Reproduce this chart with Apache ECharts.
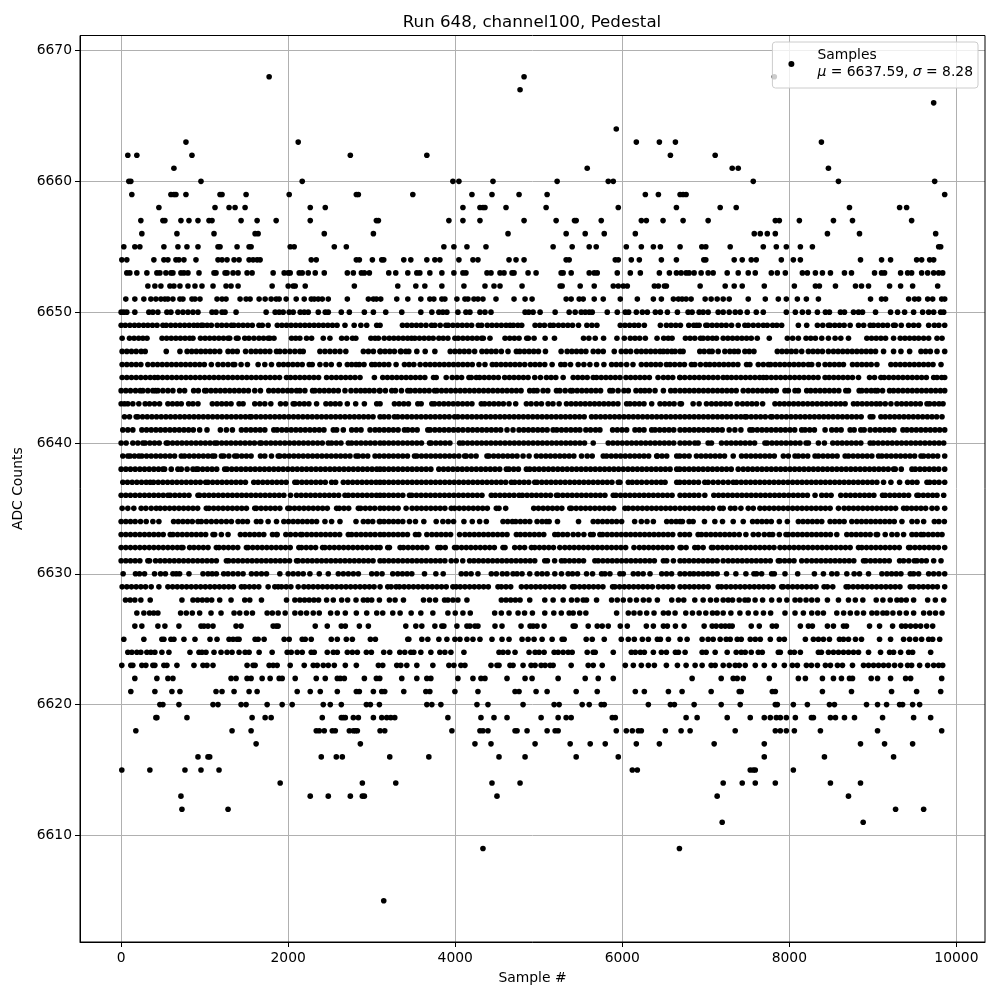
<!DOCTYPE html>
<html>
<head>
<meta charset="utf-8">
<script src="https://cdn.jsdelivr.net/npm/echarts@6/dist/echarts.min.js"></script>
<style>
  html, body { margin: 0; padding: 0; background: #fff; }
  #chart { width: 1000px; height: 1000px; }
</style>
</head>
<body>
<div id="chart"></div>
<script>
const chartTitle = "Run 648, channel100, Pedestal";
const xTicks = [0, 2000, 4000, 6000, 8000, 10000];
const yTicks = [6610, 6620, 6630, 6640, 6650, 6660, 6670];

// sample numbers, one list per ADC code
const row6668 = [1772, 4824, 7820];
const row6667 = [4776];
const row6666 = [9728];
const row6664 = [5928];
const row6663 = [776, 2120, 6168, 6444, 6636, 8384];
const row6662 = [80, 188, 848, 2744, 3660, 6576, 7112];
const row6661 = [632, 5580, 7316, 7388, 8468];
const row6660 = [92, 116, 956, 2168, 3972, 4044, 4452, 5220, 5832, 5892, 7568, 8588, 9740];
const row6659 = [128, 596, 632, 656, 776, 1184, 1208, 1496, 2012, 2816, 2840, 3492, 4200, 4440, 4764, 5100, 6276, 6432, 6692, 6728, 6764, 9860];
const row6658 = [452, 1124, 1292, 1364, 1484, 2264, 2444, 4092, 4296, 4332, 4356, 4608, 5088, 5952, 6648, 7172, 7364, 8720, 9320, 9404];
const row6657 = [236, 500, 524, 716, 812, 920, 1052, 1088, 1436, 1628, 1856, 2264, 3056, 3080, 3924, 4092, 4296, 4824, 5208, 5428, 5448, 5748, 6228, 6288, 6488, 6728, 7028, 7832, 7880, 8120, 8528, 8756, 9464];
const row6656 = [248, 668, 1112, 1604, 1640, 2432, 3020, 4632, 5328, 5556, 5784, 6156, 7580, 7652, 7736, 7832, 8456, 8840, 9752];
const row6655 = [32, 164, 224, 512, 680, 788, 920, 1160, 1184, 1388, 1532, 1556, 2024, 2072, 2552, 2696, 3864, 3984, 4140, 4368, 5172, 5400, 5604, 5688, 6048, 6228, 6372, 6456, 6692, 6952, 7000, 7292, 7688, 7844, 7964, 8132, 8276, 9788, 9812];
const row6654 = [8, 68, 392, 512, 560, 656, 692, 752, 896, 1160, 1208, 1268, 1352, 1412, 1532, 1580, 1628, 1664, 2276, 2336, 2816, 2852, 3008, 3120, 3144, 3384, 3468, 3660, 3756, 3816, 4044, 4212, 4272, 4644, 4728, 4824, 5328, 5364, 5916, 5952, 6108, 6204, 6468, 6648, 6976, 7000, 7340, 7436, 7544, 7604, 7904, 8048, 8132, 8852, 9104, 9212, 9524, 9584, 9680, 9728];
const row6653 = [68, 104, 188, 308, 428, 464, 536, 596, 620, 716, 752, 800, 932, 1112, 1136, 1244, 1268, 1340, 1400, 1508, 1568, 1820, 1952, 2000, 2024, 2132, 2168, 2240, 2324, 2432, 2708, 2780, 2876, 2912, 2972, 3204, 3288, 3432, 3540, 3576, 3696, 3840, 3984, 4092, 4128, 4380, 4428, 4536, 4584, 4680, 4704, 4872, 4968, 5268, 5292, 5388, 5604, 5664, 5700, 5940, 6096, 6216, 6444, 6564, 6648, 6704, 6764, 6800, 6860, 6944, 7028, 7088, 7256, 7388, 7508, 7592, 7784, 7856, 7952, 8156, 8216, 8312, 8396, 8492, 8660, 8744, 9020, 9104, 9140, 9332, 9416, 9464, 9584, 9656, 9728, 9788, 9836];
const row6652 = [320, 404, 476, 584, 632, 704, 800, 884, 968, 1100, 1256, 1316, 1400, 1808, 2000, 2060, 2084, 2204, 2792, 3312, 3528, 3636, 3840, 4104, 4356, 4464, 4536, 4800, 5256, 5280, 5496, 5664, 5892, 5952, 6012, 6060, 6384, 6432, 6504, 6528, 6932, 7232, 7340, 7436, 7700, 8060, 8312, 8360, 8552, 8792, 8864, 8948, 9200, 9332, 9476, 9776];
const row6651 = [56, 164, 272, 356, 416, 476, 524, 560, 620, 704, 740, 848, 884, 944, 1148, 1208, 1256, 1424, 1496, 1544, 1652, 1724, 1796, 1856, 1892, 1976, 2096, 2192, 2276, 2312, 2360, 2408, 2480, 2708, 2960, 3020, 3056, 3108, 3300, 3432, 3588, 3696, 3744, 3840, 3876, 4020, 4116, 4152, 4224, 4272, 4332, 4488, 4704, 4836, 4920, 5328, 5388, 5484, 5532, 5664, 5772, 5976, 6180, 6372, 6468, 6612, 6672, 6716, 6764, 6824, 6992, 7064, 7136, 7208, 7280, 7508, 7712, 7868, 7964, 8096, 8204, 8348, 8972, 9104, 9152, 9428, 9500, 9548, 9656, 9716, 9824, 9860];
const row6650 = [0, 32, 68, 164, 332, 380, 440, 548, 596, 680, 740, 800, 860, 920, 1088, 1136, 1208, 1244, 1376, 1736, 1844, 1892, 1940, 2012, 2060, 2144, 2192, 2240, 2360, 2444, 2480, 2636, 2732, 2912, 3020, 3168, 3360, 3588, 3720, 3804, 3852, 3900, 4032, 4128, 4176, 4296, 4356, 4428, 4836, 4880, 4932, 5016, 5196, 5364, 5436, 5508, 5556, 5604, 5640, 5820, 5940, 6036, 6076, 6168, 6240, 6300, 6396, 6456, 6540, 6660, 6788, 6836, 6920, 6968, 7028, 7148, 7208, 7280, 7352, 7412, 7496, 7604, 7688, 7964, 8072, 8156, 8228, 8336, 8432, 8480, 8612, 8660, 8768, 8828, 8876, 9032, 9212, 9296, 9380, 9488, 9596, 9668, 9728, 9812, 9848];
const row6649 = [0, 50, 105, 160, 212, 268, 320, 375, 430, 500, 540, 595, 650, 705, 760, 815, 870, 915, 960, 980, 1030, 1080, 1150, 1205, 1262, 1320, 1350, 1405, 1460, 1515, 1570, 1650, 1690, 1760, 1870, 1925, 1980, 2035, 2090, 2145, 2200, 2255, 2310, 2365, 2420, 2475, 2530, 2585, 2680, 2790, 2870, 2940, 3060, 3100, 3368, 3424, 3480, 3535, 3590, 3650, 3716, 3756, 3820, 3888, 3916, 3972, 4028, 4084, 4140, 4196, 4276, 4316, 4384, 4440, 4496, 4552, 4608, 4656, 4696, 4750, 4796, 4956, 5012, 5068, 5136, 5176, 5236, 5292, 5348, 5404, 5476, 5576, 5636, 5696, 5976, 6032, 6088, 6144, 6196, 6264, 6456, 6528, 6584, 6640, 6696, 6796, 6856, 6890, 6920, 7000, 7020, 7076, 7132, 7188, 7244, 7308, 7388, 7468, 7508, 7568, 7628, 7688, 7736, 7800, 7850, 7908, 8108, 8208, 8336, 8400, 8468, 8488, 8544, 8600, 8656, 8728, 8828, 8890, 8968, 9008, 9064, 9120, 9176, 9248, 9268, 9340, 9428, 9488, 9548, 9668, 9736, 9790, 9860];
const row6648 = [12, 100, 155, 210, 260, 310, 490, 545, 600, 655, 710, 765, 820, 860, 950, 1005, 1060, 1115, 1170, 1225, 1280, 1300, 1380, 1400, 1480, 1530, 1590, 1650, 1705, 1760, 1780, 1830, 2040, 2090, 2140, 2220, 2280, 2420, 2500, 2640, 2700, 2770, 2810, 2990, 3040, 3080, 3150, 3210, 3265, 3320, 3376, 3430, 3476, 3516, 3572, 3628, 3684, 3736, 3804, 3856, 3912, 3996, 4036, 4092, 4148, 4204, 4260, 4316, 4336, 4416, 4596, 4652, 4708, 4764, 4856, 4876, 4944, 5076, 5188, 5536, 5600, 5676, 5776, 5936, 6024, 6096, 6152, 6208, 6276, 6416, 6496, 6550, 6596, 6756, 6812, 6868, 6936, 6968, 7024, 7080, 7128, 7208, 7264, 7320, 7376, 7432, 7488, 7544, 7616, 7760, 7976, 8040, 8108, 8200, 8256, 8312, 8388, 8468, 8548, 8616, 8708, 8928, 8984, 9040, 9096, 9152, 9248, 9328, 9384, 9440, 9496, 9548, 9608, 9668, 9768, 9828];
const row6647 = [12, 68, 124, 180, 240, 288, 540, 704, 790, 845, 900, 955, 1010, 1065, 1120, 1180, 1280, 1335, 1390, 1490, 1556, 1612, 1668, 1724, 1780, 1860, 1900, 1960, 2020, 2080, 2140, 2180, 2380, 2440, 2500, 2560, 2620, 2690, 2900, 2960, 3020, 3100, 3104, 3160, 3216, 3272, 3344, 3352, 3408, 3444, 3540, 3640, 3756, 3940, 3996, 4052, 4108, 4164, 4232, 4320, 4376, 4432, 4488, 4552, 4632, 4732, 4772, 4828, 4884, 4940, 4996, 5080, 5268, 5340, 5396, 5452, 5508, 5564, 5652, 5712, 5772, 5904, 5988, 6044, 6100, 6172, 6228, 6284, 6340, 6396, 6452, 6492, 6540, 6592, 6632, 6692, 6728, 6928, 6980, 7040, 7076, 7148, 7228, 7288, 7340, 7388, 7468, 7520, 7576, 7856, 7912, 7968, 8024, 8080, 8148, 8228, 8284, 8340, 8396, 8468, 8528, 8584, 8640, 8696, 8752, 8808, 8864, 8920, 8976, 9032, 9128, 9248, 9336, 9440, 9576, 9632, 9688, 9768, 9860];
const row6646 = [12, 68, 124, 180, 236, 320, 380, 436, 492, 548, 604, 660, 716, 772, 828, 884, 940, 996, 1080, 1160, 1220, 1280, 1340, 1360, 1436, 1512, 1640, 1720, 1800, 1888, 1944, 2000, 2056, 2112, 2168, 2252, 2288, 2380, 2452, 2516, 2612, 2708, 2760, 2812, 2852, 2908, 3000, 3040, 3092, 3148, 3204, 3292, 3392, 3448, 3504, 3580, 3644, 3700, 3756, 3812, 3868, 3924, 3980, 4036, 4092, 4148, 4204, 4284, 4356, 4444, 4492, 4548, 4604, 4660, 4716, 4772, 4832, 4900, 4956, 5012, 5072, 5160, 5264, 5312, 5380, 5472, 5540, 5612, 5692, 5780, 5872, 5928, 5984, 6052, 6128, 6228, 6288, 6344, 6400, 6456, 6528, 6572, 6628, 6688, 6744, 6828, 6868, 6936, 7000, 7048, 7104, 7160, 7216, 7272, 7328, 7384, 7488, 7528, 7628, 7688, 7748, 7776, 7832, 7888, 7944, 8000, 8056, 8112, 8168, 8228, 8268, 8348, 8428, 8484, 8540, 8596, 8648, 8756, 8812, 8868, 8924, 8980, 9048, 9216, 9272, 9328, 9384, 9440, 9496, 9552, 9608, 9664, 9720, 9816];
const row6645 = [12, 68, 124, 180, 236, 292, 348, 400, 440, 496, 552, 608, 664, 720, 776, 832, 888, 944, 1000, 1056, 1112, 1168, 1224, 1280, 1336, 1392, 1448, 1504, 1560, 1616, 1672, 1728, 1784, 1840, 1896, 1980, 2028, 2084, 2140, 2196, 2252, 2308, 2364, 2460, 2520, 2576, 2632, 2688, 2744, 2800, 2860, 3032, 3132, 3188, 3244, 3300, 3356, 3412, 3468, 3524, 3580, 3636, 3740, 3772, 3892, 3964, 4020, 4076, 4164, 4192, 4252, 4292, 4348, 4404, 4460, 4516, 4592, 4648, 4704, 4760, 4816, 4872, 4952, 5020, 5092, 5148, 5204, 5292, 5412, 5468, 5524, 5580, 5652, 5692, 5748, 5804, 5860, 5916, 5972, 6044, 6100, 6156, 6212, 6268, 6324, 6428, 6492, 6548, 6604, 6692, 6688, 6748, 6808, 6864, 6920, 6976, 7032, 7088, 7144, 7208, 7256, 7308, 7364, 7420, 7476, 7532, 7588, 7644, 7688, 7728, 7784, 7840, 7896, 7952, 8008, 8064, 8120, 8176, 8232, 8288, 8344, 8428, 8476, 8532, 8588, 8644, 8700, 8756, 8828, 8960, 9020, 9096, 9136, 9192, 9248, 9304, 9360, 9416, 9472, 9528, 9584, 9640, 9728, 9768, 9824, 9860];
const row6644 = [0, 56, 112, 172, 228, 260, 320, 380, 412, 440, 500, 560, 620, 700, 760, 868, 924, 1000, 1020, 1076, 1132, 1188, 1244, 1300, 1356, 1412, 1468, 1524, 1600, 1668, 1768, 1824, 1880, 1936, 1992, 2040, 2100, 2140, 2200, 2292, 2320, 2376, 2432, 2488, 2544, 2600, 2680, 2752, 2812, 2868, 2920, 2972, 3028, 3100, 3092, 3164, 3240, 3284, 3356, 3432, 3464, 3520, 3576, 3632, 3688, 3752, 3780, 3836, 3892, 3948, 4004, 4060, 4116, 4172, 4228, 4284, 4340, 4396, 4452, 4508, 4564, 4620, 4676, 4732, 4788, 4892, 4940, 4980, 5052, 5108, 5212, 5252, 5316, 5380, 5404, 5460, 5516, 5572, 5628, 5684, 5740, 5852, 5884, 5950, 6020, 6072, 6164, 6220, 6270, 6324, 6392, 6492, 6580, 6632, 6692, 6748, 6804, 6860, 6916, 6972, 7028, 7084, 7140, 7196, 7252, 7308, 7364, 7448, 7508, 7564, 7620, 7676, 7732, 7788, 7844, 7948, 7988, 8068, 8108, 8208, 8256, 8312, 8368, 8424, 8480, 8536, 8592, 8676, 8708, 8836, 8868, 8924, 8980, 9028, 9056, 9116, 9200, 9248, 9304, 9360, 9416, 9472, 9528, 9584, 9640, 9696, 9752, 9808, 9860];
const row6643 = [0, 40, 80, 140, 212, 288, 340, 400, 460, 560, 615, 670, 720, 808, 860, 920, 1092, 1148, 1204, 1260, 1316, 1412, 1460, 1600, 1660, 1720, 1792, 1908, 1970, 2060, 2080, 2136, 2192, 2248, 2340, 2452, 2508, 2564, 2620, 2708, 2808, 2912, 3060, 3100, 3272, 3328, 3384, 3440, 3552, 3592, 3720, 3752, 3808, 3864, 3920, 3976, 4032, 4088, 4144, 4200, 4312, 4352, 4408, 4464, 4520, 4576, 4644, 4724, 4852, 4908, 4972, 5032, 5112, 5170, 5244, 5332, 5388, 5444, 5500, 5556, 5612, 5668, 5724, 5780, 5836, 5892, 5948, 6052, 6092, 6148, 6204, 6260, 6352, 6452, 6508, 6564, 6620, 6692, 6708, 6848, 6920, 7008, 7068, 7124, 7180, 7236, 7292, 7376, 7440, 7496, 7552, 7608, 7680, 7828, 7884, 7940, 7996, 8052, 8108, 8164, 8220, 8276, 8332, 8388, 8444, 8500, 8556, 8612, 8668, 8768, 8816, 8872, 8928, 8984, 9040, 9088, 9148, 9216, 9288, 9344, 9400, 9456, 9512, 9568, 9648, 9680, 9736, 9792, 9840];
const row6642 = [40, 100, 180, 200, 256, 312, 368, 424, 480, 536, 592, 648, 704, 760, 816, 872, 928, 984, 1040, 1096, 1152, 1208, 1264, 1320, 1376, 1432, 1488, 1540, 1560, 1616, 1672, 1728, 1784, 1840, 1896, 1952, 2008, 2064, 2120, 2176, 2232, 2288, 2344, 2400, 2456, 2512, 2568, 2624, 2680, 2736, 2792, 2848, 2904, 2960, 3016, 3100, 3148, 3204, 3272, 3312, 3368, 3424, 3480, 3536, 3592, 3648, 3704, 3760, 3816, 3872, 3928, 3992, 4032, 4088, 4144, 4200, 4256, 4312, 4368, 4424, 4480, 4536, 4592, 4648, 4704, 4760, 4816, 4872, 4928, 4984, 5040, 5096, 5152, 5208, 5264, 5320, 5376, 5432, 5488, 5544, 5632, 5684, 5740, 5796, 5852, 5908, 5964, 6020, 6076, 6132, 6188, 6244, 6300, 6356, 6412, 6468, 6524, 6580, 6636, 6692, 6748, 6804, 6860, 6916, 6972, 7028, 7084, 7140, 7196, 7252, 7308, 7364, 7420, 7468, 7488, 7544, 7600, 7656, 7712, 7776, 7796, 7852, 7908, 7964, 8020, 8076, 8132, 8188, 8244, 8300, 8356, 8412, 8468, 8524, 8580, 8636, 8692, 8748, 8804, 8860, 8968, 9000, 9096, 9148, 9204, 9260, 9316, 9372, 9428, 9484, 9540, 9596, 9652, 9708, 9764, 9828];
const row6641 = [20, 80, 140, 248, 304, 360, 416, 472, 528, 584, 640, 696, 752, 808, 864, 940, 1028, 1188, 1260, 1332, 1440, 1496, 1552, 1608, 1664, 1720, 1828, 1868, 1924, 1980, 2036, 2092, 2148, 2204, 2260, 2316, 2372, 2428, 2540, 2580, 2660, 2760, 2816, 2872, 2980, 3040, 3092, 3148, 3204, 3260, 3316, 3392, 3432, 3488, 3544, 3672, 3700, 3756, 3812, 3868, 3924, 3980, 4036, 4092, 4152, 4208, 4264, 4320, 4376, 4432, 4488, 4544, 4620, 4692, 4764, 4820, 4876, 4932, 4988, 5044, 5100, 5172, 5216, 5272, 5328, 5384, 5440, 5492, 5564, 5620, 5680, 5732, 5884, 5940, 5996, 6052, 6152, 6204, 6260, 6352, 6392, 6448, 6504, 6560, 6616, 6692, 6748, 6804, 6860, 6916, 6972, 7028, 7084, 7140, 7196, 7280, 7348, 7420, 7528, 7560, 7616, 7672, 7728, 7784, 7840, 7896, 7952, 8008, 8064, 8148, 8188, 8244, 8300, 8428, 8508, 8564, 8620, 8728, 8776, 8856, 8896, 8968, 9028, 9084, 9140, 9196, 9252, 9360, 9408, 9464, 9520, 9576, 9632, 9688, 9744, 9800, 9860];
const row6640 = [0, 60, 140, 200, 260, 288, 344, 400, 456, 540, 560, 616, 672, 728, 784, 840, 896, 952, 1008, 1064, 1120, 1148, 1204, 1260, 1316, 1372, 1428, 1484, 1540, 1596, 1660, 1680, 1736, 1792, 1848, 1904, 1960, 2016, 2072, 2128, 2184, 2240, 2296, 2352, 2408, 2480, 2520, 2576, 2632, 2720, 2760, 2816, 2872, 2928, 2984, 3040, 3100, 3148, 3204, 3260, 3316, 3372, 3428, 3484, 3540, 3596, 3692, 3712, 3768, 3824, 3880, 3936, 4052, 4092, 4148, 4204, 4260, 4316, 4372, 4428, 4484, 4540, 4596, 4652, 4708, 4764, 4820, 4876, 4932, 4988, 5044, 5100, 5156, 5212, 5268, 5324, 5380, 5436, 5492, 5548, 5652, 5832, 5888, 5944, 6000, 6056, 6112, 6168, 6224, 6280, 6336, 6392, 6448, 6504, 6560, 6616, 6692, 6748, 6804, 6868, 6908, 7028, 7068, 7188, 7248, 7304, 7360, 7416, 7472, 7528, 7584, 7708, 7736, 7792, 7848, 7904, 7960, 8016, 8072, 8128, 8200, 8228, 8348, 8420, 8520, 8576, 8632, 8688, 8744, 8800, 8856, 8968, 9008, 9064, 9120, 9176, 9232, 9288, 9344, 9400, 9456, 9512, 9568, 9624, 9680, 9736, 9792, 9848];
const row6639 = [20, 80, 108, 160, 212, 248, 304, 360, 416, 472, 528, 584, 640, 720, 760, 816, 872, 928, 984, 1040, 1092, 1120, 1200, 1228, 1290, 1360, 1388, 1444, 1500, 1556, 1668, 1720, 1800, 1880, 1900, 1956, 2012, 2068, 2124, 2180, 2236, 2292, 2348, 2404, 2460, 2516, 2572, 2628, 2684, 2740, 2812, 2840, 2896, 2952, 3040, 3092, 3148, 3204, 3260, 3316, 3372, 3428, 3512, 3540, 3596, 3652, 3708, 3764, 3820, 3876, 3932, 3988, 4044, 4112, 4132, 4190, 4250, 4380, 4404, 4460, 4516, 4572, 4628, 4684, 4740, 4812, 4884, 4972, 5028, 5084, 5140, 5196, 5252, 5308, 5364, 5420, 5512, 5580, 5640, 5772, 5812, 5868, 5924, 5980, 6036, 6092, 6148, 6204, 6260, 6316, 6412, 6420, 6476, 6532, 6652, 6688, 6744, 6800, 6888, 6944, 7000, 7056, 7112, 7168, 7224, 7328, 7428, 7484, 7540, 7596, 7652, 7708, 7764, 7820, 7928, 7988, 8068, 8108, 8164, 8220, 8308, 8348, 8404, 8460, 8516, 8572, 8668, 8708, 8764, 8820, 8876, 8932, 8988, 9068, 9108, 9164, 9220, 9276, 9332, 9388, 9444, 9500, 9576, 9608, 9664, 9720, 9776, 9860];
const row6638 = [0, 56, 112, 168, 224, 280, 336, 392, 448, 500, 520, 600, 680, 720, 790, 860, 900, 920, 976, 1032, 1088, 1144, 1240, 1268, 1324, 1380, 1436, 1492, 1548, 1604, 1660, 1716, 1772, 1828, 1884, 1940, 1996, 2052, 2108, 2164, 2220, 2276, 2332, 2388, 2444, 2500, 2556, 2612, 2668, 2724, 2780, 2836, 2892, 2948, 3004, 3060, 3100, 3148, 3204, 3260, 3316, 3372, 3428, 3484, 3540, 3596, 3652, 3708, 3804, 3860, 3916, 3972, 4028, 4084, 4140, 4196, 4252, 4308, 4364, 4420, 4476, 4532, 4612, 4644, 4700, 4756, 4852, 4892, 4948, 5004, 5060, 5116, 5172, 5228, 5284, 5340, 5396, 5452, 5508, 5564, 5620, 5676, 5732, 5788, 5844, 5900, 5956, 6012, 6068, 6124, 6180, 6236, 6292, 6348, 6404, 6460, 6516, 6572, 6652, 6688, 6744, 6800, 6856, 6912, 6968, 7024, 7080, 7136, 7192, 7248, 7304, 7388, 7448, 7504, 7560, 7616, 7672, 7728, 7784, 7840, 7896, 7952, 8008, 8064, 8120, 8176, 8232, 8288, 8344, 8400, 8456, 8512, 8568, 8624, 8680, 8736, 8792, 8848, 8904, 8960, 9016, 9072, 9128, 9184, 9248, 9268, 9340, 9468, 9508, 9564, 9620, 9676, 9732, 9788, 9860];
const row6637 = [20, 76, 132, 188, 244, 300, 348, 388, 444, 500, 556, 612, 668, 724, 780, 836, 892, 948, 1012, 1040, 1096, 1152, 1208, 1264, 1320, 1376, 1432, 1488, 1588, 1640, 1696, 1752, 1808, 1864, 1920, 1976, 2080, 2108, 2164, 2220, 2276, 2332, 2388, 2444, 2520, 2568, 2660, 2716, 2772, 2828, 2884, 2940, 2996, 3052, 3100, 3148, 3204, 3260, 3316, 3372, 3428, 3484, 3540, 3596, 3652, 3708, 3764, 3820, 3876, 3932, 3988, 4044, 4100, 4156, 4212, 4268, 4324, 4380, 4436, 4492, 4548, 4604, 4672, 4712, 4768, 4824, 4880, 4952, 4980, 5036, 5092, 5148, 5204, 5260, 5316, 5372, 5428, 5484, 5540, 5596, 5652, 5708, 5764, 5820, 5876, 5952, 5972, 6072, 6120, 6176, 6232, 6292, 6352, 6408, 6464, 6512, 6652, 6688, 6744, 6800, 6856, 6912, 6988, 7028, 7088, 7148, 7208, 7268, 7328, 7368, 7424, 7480, 7536, 7592, 7648, 7704, 7760, 7816, 7872, 7928, 7984, 8040, 8096, 8152, 8208, 8264, 8320, 8376, 8432, 8488, 8544, 8600, 8656, 8712, 8768, 8824, 8880, 8936, 8992, 9048, 9128, 9216, 9320, 9416, 9472, 9528, 9648, 9680, 9736, 9792, 9860];
const row6636 = [0, 56, 112, 168, 224, 280, 336, 392, 448, 504, 560, 588, 644, 700, 756, 812, 920, 940, 996, 1052, 1108, 1164, 1220, 1276, 1332, 1388, 1444, 1500, 1556, 1612, 1668, 1724, 1780, 1836, 1892, 1948, 2028, 2100, 2156, 2212, 2268, 2324, 2380, 2436, 2492, 2548, 2604, 2680, 2720, 2776, 2832, 2888, 2944, 3000, 3056, 3100, 3148, 3204, 3260, 3316, 3372, 3452, 3480, 3536, 3592, 3648, 3704, 3760, 3816, 3872, 3928, 3984, 4040, 4096, 4152, 4208, 4264, 4320, 4432, 4480, 4536, 4592, 4648, 4704, 4764, 4804, 4860, 4916, 4972, 5028, 5084, 5140, 5212, 5232, 5288, 5344, 5400, 5456, 5512, 5568, 5624, 5680, 5736, 5792, 5892, 5924, 5980, 6036, 6092, 6148, 6204, 6260, 6316, 6372, 6428, 6484, 6540, 6596, 6692, 6748, 6804, 6860, 6916, 6988, 7096, 7152, 7208, 7264, 7320, 7376, 7432, 7488, 7544, 7600, 7656, 7712, 7768, 7824, 7880, 7936, 7992, 8048, 8104, 8160, 8216, 8308, 8388, 8444, 8500, 8616, 8676, 8732, 8788, 8844, 8900, 8956, 9012, 9116, 9148, 9204, 9260, 9316, 9372, 9428, 9528, 9548, 9604, 9660, 9716, 9768, 9848];
const row6635 = [12, 80, 152, 240, 296, 360, 420, 468, 524, 580, 636, 692, 748, 804, 860, 916, 1020, 1052, 1108, 1164, 1220, 1276, 1332, 1388, 1444, 1500, 1600, 1620, 1676, 1732, 1788, 1844, 1900, 1996, 2020, 2076, 2132, 2188, 2244, 2300, 2356, 2412, 2468, 2580, 2612, 2668, 2724, 2840, 2868, 2924, 2980, 3036, 3100, 3148, 3204, 3260, 3316, 3412, 3484, 3540, 3596, 3652, 3708, 3764, 3820, 3876, 3952, 3992, 4048, 4104, 4160, 4216, 4272, 4328, 4384, 4492, 4524, 4604, 4940, 4996, 5052, 5108, 5164, 5220, 5276, 5372, 5392, 5448, 5504, 5560, 5616, 5672, 5728, 5784, 5840, 5896, 6032, 6072, 6128, 6184, 6240, 6296, 6352, 6408, 6464, 6520, 6576, 6632, 6692, 6748, 6804, 6860, 6916, 6972, 7028, 7084, 7168, 7208, 7296, 7348, 7420, 7508, 7568, 7648, 7704, 7760, 7816, 7872, 7928, 7984, 8040, 8096, 8152, 8208, 8264, 8320, 8376, 8432, 8488, 8588, 8656, 8712, 8768, 8824, 8880, 8936, 8992, 9048, 9104, 9160, 9216, 9272, 9368, 9408, 9464, 9520, 9576, 9632, 9708, 9768, 9860];
const row6634 = [0, 56, 112, 168, 232, 300, 380, 452, 628, 684, 740, 796, 852, 920, 960, 1020, 1080, 1140, 1200, 1260, 1320, 1400, 1456, 1512, 1620, 1672, 1760, 1860, 1948, 2004, 2060, 2116, 2172, 2228, 2284, 2340, 2440, 2520, 2620, 2812, 2900, 2956, 3012, 3100, 3092, 3148, 3204, 3260, 3316, 3372, 3452, 3524, 3624, 3772, 3852, 3916, 3980, 4104, 4204, 4292, 4372, 4572, 4628, 4684, 4724, 4780, 4836, 4892, 4980, 5040, 5092, 5124, 5224, 5476, 5652, 5708, 5764, 5820, 5876, 5932, 5992, 6148, 6228, 6296, 6372, 6532, 6588, 6644, 6692, 6720, 6800, 6848, 6984, 7108, 7200, 7328, 7448, 7560, 7616, 7672, 7728, 7784, 7880, 7976, 8108, 8164, 8220, 8276, 8332, 8388, 8488, 8544, 8600, 8656, 8748, 8808, 8864, 8920, 8976, 9032, 9088, 9144, 9200, 9256, 9348, 9468, 9530, 9608, 9736, 9790, 9856];
const row6633 = [0, 56, 112, 168, 224, 280, 336, 392, 448, 504, 588, 620, 676, 732, 788, 844, 900, 956, 1012, 1100, 1120, 1200, 1280, 1428, 1484, 1540, 1596, 1652, 1708, 1860, 1812, 1868, 1972, 2028, 2088, 2148, 2168, 2224, 2280, 2336, 2392, 2448, 2504, 2560, 2616, 2720, 2760, 2816, 2872, 2928, 2984, 3040, 3100, 3148, 3204, 3260, 3316, 3372, 3428, 3524, 3564, 3660, 3720, 3776, 3832, 3888, 3944, 4052, 4116, 4172, 4228, 4284, 4340, 4396, 4452, 4508, 4564, 4620, 4732, 4780, 4836, 4892, 4948, 5004, 5060, 5192, 5232, 5288, 5344, 5412, 5472, 5540, 5620, 5652, 5732, 5764, 5820, 5876, 5932, 5988, 6044, 6100, 6156, 6212, 6268, 6324, 6380, 6436, 6492, 6548, 6604, 6692, 6748, 6804, 6908, 6948, 7004, 7060, 7116, 7172, 7228, 7284, 7340, 7400, 7480, 7568, 7630, 7700, 7760, 7800, 7880, 7960, 7988, 8044, 8100, 8156, 8212, 8268, 8324, 8380, 8436, 8492, 8568, 8688, 8744, 8800, 8856, 8912, 8968, 9040, 9056, 9148, 9228, 9290, 9368, 9468, 9520, 9576, 9608, 9664, 9720, 9776, 9828];
const row6632 = [0, 56, 112, 168, 224, 280, 336, 392, 448, 504, 560, 616, 672, 720, 740, 820, 872, 928, 984, 1040, 1140, 1172, 1228, 1284, 1340, 1396, 1500, 1520, 1576, 1632, 1688, 1744, 1800, 1856, 1912, 1968, 2024, 2128, 2160, 2216, 2272, 2328, 2412, 2440, 2496, 2552, 2608, 2664, 2720, 2776, 2832, 2888, 2944, 3000, 3056, 3100, 3192, 3212, 3340, 3380, 3436, 3492, 3548, 3604, 3660, 3792, 3824, 3880, 3992, 4020, 4076, 4132, 4188, 4244, 4300, 4356, 4412, 4468, 4572, 4596, 4712, 4772, 4830, 4912, 4952, 5008, 5064, 5120, 5176, 5252, 5312, 5368, 5424, 5480, 5536, 5592, 5648, 5704, 5760, 5816, 5872, 5928, 5984, 6040, 6140, 6204, 6260, 6316, 6372, 6428, 6484, 6540, 6596, 6692, 6708, 6764, 6868, 6908, 6968, 7068, 7088, 7144, 7200, 7256, 7312, 7368, 7424, 7480, 7536, 7592, 7648, 7704, 7760, 7816, 7888, 7944, 8000, 8056, 8112, 8168, 8224, 8280, 8336, 8392, 8448, 8504, 8560, 8616, 8672, 8728, 8828, 8868, 8924, 8980, 9036, 9092, 9148, 9204, 9260, 9316, 9428, 9448, 9504, 9560, 9616, 9672, 9728, 9784, 9860];
const row6631 = [0, 56, 112, 168, 224, 320, 340, 412, 468, 524, 580, 636, 692, 748, 804, 860, 916, 972, 1028, 1084, 1140, 1260, 1288, 1344, 1400, 1456, 1512, 1568, 1624, 1680, 1736, 1792, 1848, 1904, 1960, 2016, 2100, 2120, 2176, 2232, 2288, 2344, 2400, 2456, 2512, 2568, 2624, 2680, 2736, 2792, 2848, 2904, 2960, 3016, 3100, 3148, 3204, 3260, 3316, 3372, 3428, 3484, 3540, 3596, 3652, 3708, 3764, 3820, 3876, 3952, 4012, 4090, 4172, 4224, 4280, 4336, 4392, 4448, 4504, 4560, 4616, 4672, 4728, 4784, 4840, 4896, 4952, 5072, 5104, 5190, 5272, 5312, 5368, 5424, 5480, 5536, 5672, 5712, 5768, 5824, 5880, 5936, 5992, 6048, 6104, 6160, 6216, 6272, 6328, 6384, 6492, 6532, 6612, 6692, 6744, 6800, 6856, 6912, 6968, 7024, 7080, 7136, 7208, 7268, 7324, 7380, 7436, 7492, 7548, 7604, 7660, 7716, 7772, 7868, 7888, 7944, 8000, 8056, 8148, 8208, 8268, 8324, 8380, 8436, 8492, 8548, 8604, 8660, 8716, 8772, 8888, 8916, 8972, 9028, 9084, 9140, 9196, 9320, 9368, 9430, 9496, 9528, 9584, 9640, 9728, 9816];
const row6630 = [24, 172, 220, 280, 400, 472, 530, 620, 660, 700, 812, 980, 1040, 1090, 1140, 1228, 1280, 1340, 1400, 1460, 1560, 1620, 1680, 1740, 1900, 2000, 2060, 2120, 2180, 2260, 2372, 2480, 2600, 2660, 2720, 2780, 2840, 3000, 3060, 3124, 3252, 3312, 3368, 3424, 3480, 3632, 3768, 3856, 4072, 4130, 4190, 4272, 4432, 4492, 4564, 4620, 4692, 4740, 4800, 4892, 4980, 5040, 5100, 5192, 5272, 5352, 5404, 5464, 5572, 5644, 5752, 5792, 5852, 5972, 6012, 6132, 6190, 6250, 6332, 6472, 6530, 6590, 6692, 6748, 6808, 6856, 6912, 6968, 7024, 7080, 7136, 7248, 7360, 7480, 7576, 7608, 7668, 7788, 7820, 7948, 8100, 8300, 8408, 8508, 8570, 8688, 8776, 8840, 8948, 9108, 9168, 9224, 9280, 9336, 9448, 9488, 9548, 9668, 9728, 9790, 9860];
const row6629 = [12, 68, 124, 180, 236, 292, 360, 452, 560, 616, 672, 728, 784, 840, 896, 952, 1008, 1064, 1120, 1176, 1232, 1288, 1344, 1440, 1480, 1536, 1592, 1648, 1760, 1840, 1880, 1920, 1976, 2032, 2120, 2188, 2244, 2300, 2356, 2412, 2468, 2524, 2580, 2636, 2692, 2748, 2804, 2860, 2916, 2972, 3028, 3100, 3192, 3232, 3292, 3332, 3388, 3444, 3500, 3556, 3612, 3668, 3724, 3780, 3836, 3892, 3972, 4012, 4060, 4116, 4172, 4228, 4284, 4340, 4396, 4512, 4552, 4608, 4664, 4792, 4852, 4908, 4964, 5020, 5076, 5132, 5188, 5244, 5300, 5404, 5432, 5488, 5544, 5600, 5656, 5712, 5768, 5884, 5912, 5968, 6024, 6080, 6136, 6192, 6248, 6304, 6360, 6432, 6492, 6548, 6604, 6692, 6748, 6804, 6860, 6916, 6972, 7028, 7148, 7188, 7244, 7300, 7356, 7412, 7468, 7524, 7580, 7636, 7692, 7748, 7804, 7908, 7928, 7984, 8040, 8096, 8152, 8208, 8264, 8320, 8416, 8456, 8520, 8680, 8708, 8764, 8820, 8876, 8932, 8988, 9044, 9100, 9156, 9212, 9268, 9324, 9448, 9488, 9548, 9604, 9660, 9716, 9772, 9860];
const row6628 = [52, 108, 164, 236, 348, 728, 860, 916, 972, 1028, 1084, 1180, 1316, 1480, 1540, 1680, 1980, 2080, 2140, 2196, 2252, 2308, 2364, 2460, 2540, 2640, 2712, 2812, 2900, 2950, 3000, 3092, 3212, 3280, 3380, 3620, 3692, 3764, 3872, 3912, 3972, 4032, 4140, 4552, 4608, 4664, 4720, 4776, 4892, 5072, 5172, 5292, 5392, 5460, 5532, 5572, 5692, 5872, 5940, 6012, 6092, 6170, 6252, 6320, 6420, 6592, 6672, 6736, 6868, 6968, 7056, 7128, 7208, 7268, 7320, 7400, 7468, 7508, 7590, 7680, 7788, 7880, 7970, 8068, 8128, 8200, 8268, 8336, 8456, 8588, 8708, 8790, 8880, 9040, 9120, 9208, 9288, 9340, 9400, 9488, 9656, 9748, 9848];
const row6627 = [188, 272, 340, 390, 440, 712, 780, 852, 940, 1076, 1196, 1352, 1420, 1500, 1572, 1748, 1810, 1880, 1964, 2080, 2150, 2220, 2300, 2372, 2508, 2588, 2684, 2816, 2940, 3060, 3132, 3252, 3340, 3472, 3588, 3732, 3912, 4000, 4092, 4180, 4472, 4552, 4644, 4752, 4830, 4924, 5072, 5180, 5270, 5364, 5412, 5490, 5564, 5932, 6072, 6140, 6212, 6292, 6380, 6492, 6552, 6632, 6760, 6840, 6920, 7000, 7080, 7136, 7208, 7300, 7408, 7508, 7600, 7690, 7776, 7948, 8068, 8168, 8268, 8340, 8408, 8568, 8650, 8730, 8810, 8888, 8988, 9048, 9120, 9168, 9240, 9320, 9400, 9488, 9608, 9680, 9750, 9828];
const row6626 = [164, 248, 440, 524, 692, 956, 992, 1040, 1100, 1376, 1436, 1820, 1856, 1880, 2324, 2468, 2636, 2684, 2852, 2960, 3408, 3528, 3600, 3756, 3840, 3864, 4020, 4140, 4176, 4236, 4272, 4476, 4560, 4788, 4896, 4932, 4980, 5064, 5412, 5436, 5592, 5700, 5760, 5832, 5976, 6060, 6288, 6372, 6492, 6540, 6636, 6740, 6980, 7076, 7124, 7184, 7232, 7280, 7316, 7544, 7640, 7796, 7844, 8132, 8228, 8276, 8456, 8528, 8648, 8684, 8960, 9080, 9236, 9344, 9392, 9452, 9512, 9572, 9644, 9716];
const row6625 = [32, 272, 488, 512, 596, 632, 752, 884, 1064, 1148, 1292, 1340, 1388, 1412, 1604, 1640, 1712, 1952, 2012, 2168, 2204, 2276, 2516, 2588, 2696, 2768, 2984, 3044, 3432, 3444, 3600, 3672, 3804, 3900, 3996, 4056, 4140, 4212, 4296, 4440, 4560, 4644, 4800, 4872, 4944, 5040, 5160, 5280, 5304, 5568, 5640, 5784, 5988, 6072, 6144, 6240, 6312, 6420, 6456, 6552, 6692, 6776, 6956, 7028, 7088, 7172, 7244, 7292, 7376, 7424, 7532, 7592, 7652, 7772, 7880, 7940, 8192, 8288, 8348, 8408, 8480, 8600, 8648, 8708, 8792, 8864, 9080, 9212, 9368, 9440, 9512, 9584, 9668, 9716, 9800];
const row6624 = [80, 128, 188, 236, 308, 356, 404, 488, 572, 824, 932, 968, 1016, 1112, 1196, 1268, 1328, 1412, 1484, 1532, 1652, 1808, 1988, 2036, 2108, 2168, 2276, 2312, 2468, 2540, 2588, 2708, 2768, 2828, 2936, 2996, 3144, 3216, 3336, 3396, 3468, 3504, 3588, 3708, 3816, 3876, 3948, 4104, 4524, 4572, 4632, 4716, 4884, 4956, 5004, 5064, 5184, 5232, 5292, 5352, 5400, 5580, 5652, 5676, 5892, 6108, 6156, 6216, 6264, 6372, 6468, 6528, 6636, 6672, 6752, 6956, 7004, 7112, 7256, 7364, 7424, 7472, 7544, 7628, 7676, 7868, 7892, 8012, 8060, 8132, 8348, 8384, 8468, 8528, 8588, 8648, 8708, 8768, 8828, 8948, 9092, 9200, 9248, 9332, 9428, 9476, 9692];
const row6623 = [8, 116, 140, 248, 296, 380, 404, 512, 548, 668, 872, 980, 1028, 1100, 1508, 1580, 1604, 1772, 1820, 1868, 2024, 2192, 2300, 2348, 2420, 2480, 2552, 2684, 2816, 3080, 3132, 3300, 3348, 3420, 3540, 3732, 3924, 3984, 4068, 4116, 4428, 4500, 4524, 4656, 4692, 4812, 4908, 4956, 5028, 5076, 5136, 5172, 5388, 5592, 5652, 5760, 6036, 6132, 6228, 6312, 6384, 6528, 6660, 6764, 6872, 6956, 7064, 7112, 7208, 7280, 7352, 7400, 7472, 7592, 7700, 7820, 7940, 8036, 8096, 8204, 8264, 8336, 8432, 8492, 8576, 8636, 8756, 8888, 8948, 9008, 9068, 9128, 9188, 9260, 9332, 9416, 9464, 9560, 9656, 9728, 9788, 9836];
const row6622 = [164, 428, 560, 620, 1316, 1376, 1508, 1556, 1688, 1784, 1892, 1928, 2084, 2336, 2444, 2588, 2624, 2672, 2912, 3056, 3096, 3360, 3540, 3660, 3708, 4032, 4212, 4308, 4356, 4620, 4836, 4920, 5232, 5556, 5712, 5892, 6836, 7184, 7328, 7376, 7448, 7760, 8108, 8192, 8396, 8528, 8624, 8720, 8756, 8980, 9056, 9212, 9392, 9452, 9824];
const row6621 = [116, 404, 608, 704, 1136, 1208, 1352, 1532, 1628, 2108, 2264, 2384, 2588, 2816, 2852, 3020, 3120, 3156, 3384, 3648, 3696, 3996, 4272, 4716, 4764, 4968, 5100, 5448, 5700, 6156, 6264, 6552, 6716, 7064, 7400, 7424, 7796, 7832, 8396, 8744, 9224, 9524, 9812];
const row6620 = [464, 500, 692, 1100, 1160, 1436, 1496, 1748, 1928, 2048, 2420, 2504, 2636, 2936, 2984, 3092, 3660, 3720, 3828, 4260, 4392, 4812, 5184, 5244, 5520, 5604, 5748, 5784, 6312, 6576, 6624, 6860, 7184, 7412, 7832, 7856, 8048, 8216, 8480, 8540, 8924, 9056, 9164, 9320, 9356, 9476, 9560];
const row6619 = [416, 428, 788, 1568, 1724, 1796, 2408, 2636, 2660, 2684, 2780, 2840, 3020, 3120, 3180, 3228, 3276, 3912, 4308, 4464, 4620, 5028, 5232, 5328, 5388, 5880, 5916, 6764, 6896, 7256, 7532, 7700, 7772, 7844, 7892, 7964, 8072, 8264, 8288, 8492, 8552, 8660, 8780, 9116, 9488, 9692];
const row6618 = [176, 1328, 1556, 2336, 2372, 2432, 2528, 2564, 2732, 2780, 2804, 2828, 3100, 3156, 3960, 4296, 4332, 4392, 4716, 4740, 4860, 5100, 5196, 5232, 5928, 6048, 6120, 6192, 6228, 6516, 6704, 6812, 7352, 7832, 7892, 7964, 8060, 8372, 9056, 9824];
const row6617 = [1616, 2864, 4236, 4428, 4956, 5376, 5616, 5796, 6168, 6444, 7100, 7700, 8852, 9140, 9476];
const row6616 = [920, 1040, 1060, 2396, 2576, 2648, 3216, 3684, 4524, 4836, 5448, 5952, 7700, 8420, 9248];
const row6615 = [8, 344, 764, 956, 1172, 6120, 6180, 7532, 7568, 7592, 8048];
const row6614 = [1904, 2888, 3288, 4440, 4776, 7208, 7436, 7592, 7832, 8492, 8852];
const row6613 = [716, 2264, 2480, 2744, 2888, 2912, 4500, 7136, 8708];
const row6612 = [728, 1280, 9272, 9608];
const row6611 = [7196, 8884];
const row6609 = [4332, 6684];
const row6605 = [3144];

const rows = [
  [6668, row6668], [6667, row6667], [6666, row6666], [6664, row6664], [6663, row6663], [6662, row6662],
  [6661, row6661], [6660, row6660], [6659, row6659], [6658, row6658], [6657, row6657], [6656, row6656],
  [6655, row6655], [6654, row6654], [6653, row6653], [6652, row6652], [6651, row6651], [6650, row6650],
  [6649, row6649], [6648, row6648], [6647, row6647], [6646, row6646], [6645, row6645], [6644, row6644],
  [6643, row6643], [6642, row6642], [6641, row6641], [6640, row6640], [6639, row6639], [6638, row6638],
  [6637, row6637], [6636, row6636], [6635, row6635], [6634, row6634], [6633, row6633], [6632, row6632],
  [6631, row6631], [6630, row6630], [6629, row6629], [6628, row6628], [6627, row6627], [6626, row6626],
  [6625, row6625], [6624, row6624], [6623, row6623], [6622, row6622], [6621, row6621], [6620, row6620],
  [6619, row6619], [6618, row6618], [6617, row6617], [6616, row6616], [6615, row6615], [6614, row6614],
  [6613, row6613], [6612, row6612], [6611, row6611], [6609, row6609], [6605, row6605],
];

const points = [];
rows.forEach(([adc, samples]) => samples.forEach((s) => points.push([s, adc])));

const fontFamily = '"DejaVu Sans", sans-serif';
const chart = echarts.init(document.getElementById("chart"), null, { renderer: "canvas" });

chart.setOption({
  animation: false,
  backgroundColor: "#fff",
  title: {
    text: chartTitle,
    left: 527,
    top: 9,
    textAlign: "center",
    textStyle: { fontFamily, fontSize: 16.67, fontWeight: "normal", color: "#000" },
  },
  legend: {
    right: 22,
    top: 42,
    padding: [5, 5, 7, 16],
    itemWidth: 30,
    itemHeight: 6,
    icon: "circle",
    backgroundColor: "rgba(255,255,255,0.8)",
    borderColor: "#ccc",
    borderWidth: 1,
    borderRadius: 3,
    data: ["Samples"],
    formatter: () => "Samples\n{i|μ} = 6637.59, {i|σ} = 8.28",
    textStyle: {
      fontFamily,
      fontSize: 13.89,
      color: "#000",
      lineHeight: 17,
      padding: [0, 0, 0, 6],
      rich: { i: { fontFamily, fontStyle: "italic", fontSize: 13.89 } },
    },
  },
  grid: {
    left: 80,
    right: 15,
    top: 35.5,
    bottom: 58,
    show: true,
    borderColor: "#000",
    borderWidth: 1,
    z: 3,
  },
  xAxis: {
    type: "value",
    min: -492.5,
    max: 10342.5,
    name: "Sample #",
    nameLocation: "middle",
    nameGap: 29,
    nameTextStyle: { fontFamily, fontSize: 13.89, color: "#000" },
    axisLine: { show: true, onZero: false, lineStyle: { color: "#000", width: 1 } },
    axisTick: { show: true, length: 5, customValues: xTicks, lineStyle: { color: "#000" } },
    axisLabel: {
      show: true,
      customValues: xTicks,
      formatter: (v) => String(v),
      margin: 9,
      fontFamily,
      fontSize: 13.89,
      color: "#000",
    },
    splitLine: { show: true, lineStyle: { color: "#b0b0b0", width: 1 } },
  },
  yAxis: {
    type: "value",
    min: 6601.85,
    max: 6671.15,
    name: "ADC Counts",
    nameLocation: "middle",
    nameGap: 48,
    nameTextStyle: { fontFamily, fontSize: 13.89, color: "#000" },
    axisLine: { show: true, onZero: false, lineStyle: { color: "#000", width: 1 } },
    axisTick: { show: true, length: 5, customValues: yTicks, lineStyle: { color: "#000" } },
    axisLabel: {
      show: true,
      customValues: yTicks,
      formatter: (v) => String(v),
      margin: 8,
      fontFamily,
      fontSize: 13.89,
      color: "#000",
    },
    splitLine: { show: true, lineStyle: { color: "#b0b0b0", width: 1 } },
  },
  series: [
    {
      name: "Samples",
      type: "scatter",
      symbol: "circle",
      symbolSize: 5.6,
      silent: true,
      itemStyle: { color: "#000", opacity: 1 },
      data: points,
    },
  ],
});
</script>
</body>
</html>
